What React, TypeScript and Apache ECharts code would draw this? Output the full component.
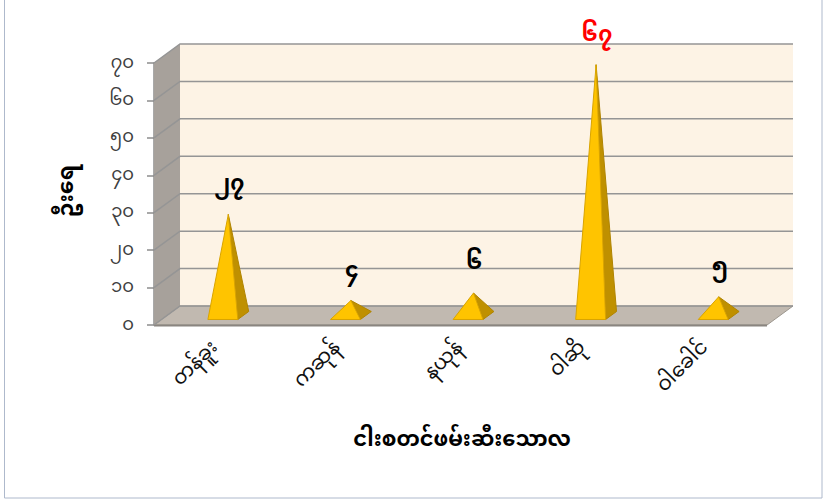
import React, { useEffect, useRef } from "react";
import * as echarts from "echarts";

const categories = ["တန်ခူး", "ကဆုန်", "နယုန်", "ဝါဆို", "ဝါခေါင်"];
const values = [27, 4, 6, 67, 5];
const valueLabels = ["၂၇", "၄", "၆", "၆၇", "၅"];
const yTickValues = [0, 10, 20, 30, 40, 50, 60, 70];
const yTickLabels = ["၀", "၁၀", "၂၀", "၃၀", "၄၀", "၅၀", "၆၀", "၇၀"];
const yTitle = "ဦးရေ";
const xTitle = "ငါးစတင်ဖမ်းဆီးသောလ";

const FONT = "'Noto Sans Myanmar','Padauk','Myanmar Text','Noto Sans',sans-serif";
const DX = 26;
const DY = 19;

export default function App() {
  const ref = useRef<HTMLDivElement>(null);
  useEffect(() => {
    if (!ref.current) return;
    const chart = echarts.init(ref.current, undefined, { renderer: "svg" });
    const maxV = Math.max(...values);
    const option: any = {
      animation: false,
      backgroundColor: "#ffffff",
      grid: { left: 154, right: 69, top: 63, bottom: 179, containLabel: false },
      xAxis: {
        type: "category",
        data: categories,
        axisLine: { show: false },
        axisTick: { show: false },
        splitLine: { show: false },
        axisLabel: {
          rotate: 45,
          margin: 20,
          fontSize: 20,
          lineHeight: 22,
          color: "#111",
          fontFamily: FONT,
        },
      },
      yAxis: {
        type: "value",
        min: 0,
        max: 70,
        interval: 10,
        splitLine: { show: false },
        axisLine: { show: true, lineStyle: { color: "#8c8c8c", width: 1.5 } },
        axisTick: { show: true, length: 7, lineStyle: { color: "#8c8c8c", width: 1.5 } },
        axisLabel: {
          margin: 20,
          fontSize: 18,
          lineHeight: 18,
          color: "#404040",
          fontFamily: FONT,
          formatter: (v: number) => {
            const idx = yTickValues.indexOf(Math.round(v));
            return idx >= 0 ? yTickLabels[idx] : "";
          },
        },
      },
      graphic: [
        {
          type: "rect",
          shape: { x: 4.5, y: -5, width: 817.5, height: 503 },
          style: { fill: "none", stroke: "#AEB9CC", lineWidth: 1 },
          silent: true,
        },
        {
          type: "text",
          x: 68,
          y: 191,
          rotation: Math.PI / 2,
          style: {
            text: yTitle,
            font: `bold 22px ${FONT}`,
            fill: "#000",
            align: "center",
            verticalAlign: "middle",
          },
        },
        {
          type: "text",
          x: 462,
          y: 441,
          style: {
            text: xTitle,
            font: `bold 21px ${FONT}`,
            fill: "#000",
            align: "center",
            verticalAlign: "middle",
          },
        },
      ],
      series: [
        {
          type: "custom",
          z: 1,
          clip: false,
          silent: true,
          data: [[0, 0]],
          renderItem: (params: any, api: any) => {
            const cs = params.coordSys;
            const x0 = cs.x;
            const x1 = cs.x + cs.width;
            const y0 = api.coord([0, 0])[1];
            const yT = api.coord([0, 70])[1];
            return {
              type: "group",
              children: [
                {
                  type: "polygon",
                  shape: { points: [[x0 + DX, yT - DY], [x1 + DX, yT - DY], [x1 + DX, y0 - DY], [x0 + DX, y0 - DY]] },
                  style: { fill: "#FDF3E5" },
                },
                {
                  type: "polygon",
                  shape: { points: [[x0, y0], [x0, yT], [x0 + DX, yT - DY], [x0 + DX, y0 - DY]] },
                  style: { fill: "#A7A19B" },
                },
                {
                  type: "polygon",
                  shape: { points: [[x0, y0], [x1, y0], [x1 + DX, y0 - DY], [x0 + DX, y0 - DY]] },
                  style: { fill: "#C1B9B0", stroke: "#9d978f", lineWidth: 1 },
                },
                {
                  type: "line",
                  shape: { x1: x0, y1: y0 + 0.5, x2: x1, y2: y0 + 0.5 },
                  style: { stroke: "#8a8580", lineWidth: 2 },
                },
              ],
            };
          },
        },
        {
          type: "custom",
          z: 2,
          clip: false,
          silent: true,
          data: yTickValues.map((v) => [0, v]),
          renderItem: (params: any, api: any) => {
            const cs = params.coordSys;
            const x0 = cs.x;
            const x1 = cs.x + cs.width;
            const y = api.coord([0, api.value(1)])[1];
            return {
              type: "polyline",
              shape: { points: [[x0, y], [x0 + DX, y - DY], [x1 + DX, y - DY]] },
              style: { stroke: "#959595", lineWidth: 1.5, fill: "none" },
            };
          },
        },
        {
          type: "custom",
          z: 3,
          clip: false,
          data: values.map((v, i) => [i, v]),
          renderItem: (params: any, api: any) => {
            const i = api.value(0);
            const v = api.value(1);
            const c0 = api.coord([i, 0]);
            const cv = api.coord([i, v]);
            const band = api.size([1, 0])[0];
            const bx = c0[0] + DX / 2;
            const by = c0[1] - DY / 2;
            const ax = bx;
            const ay = cv[1] - DY / 2;
            const w = band * 0.122;
            const k = 0.42;
            const hdx = (k * DX) / 2;
            const hdy = (k * DY) / 2;
            const FL = [bx - w - hdx, by + hdy];
            const FR = [bx + w - hdx, by + hdy];
            const BR = [bx + w + hdx, by - hdy];
            const AP = [ax, ay];
            return {
              type: "group",
              children: [
                {
                  type: "polygon",
                  shape: { points: [FR, BR, AP] },
                  style: { fill: "#BF9000", stroke: "#B08400", lineWidth: 1 },
                },
                {
                  type: "polygon",
                  shape: { points: [FL, FR, AP] },
                  style: { fill: "#FFC400", stroke: "#D9A400", lineWidth: 1 },
                },
                {
                  type: "text",
                  style: {
                    text: valueLabels[i],
                    x: ax + 1,
                    y: ay - 29,
                    align: "center",
                    verticalAlign: "middle",
                    font: `bold 22px ${FONT}`,
                    fill: v === maxV ? "#FF0000" : "#000000",
                  },
                },
              ],
            };
          },
        },
      ],
    };
    chart.setOption(option);
    return () => chart.dispose();
  }, []);
  return (
    <div
      ref={ref}
      style={{ position: "fixed", left: 0, top: 0, width: 836, height: 504 }}
    />
  );
}
